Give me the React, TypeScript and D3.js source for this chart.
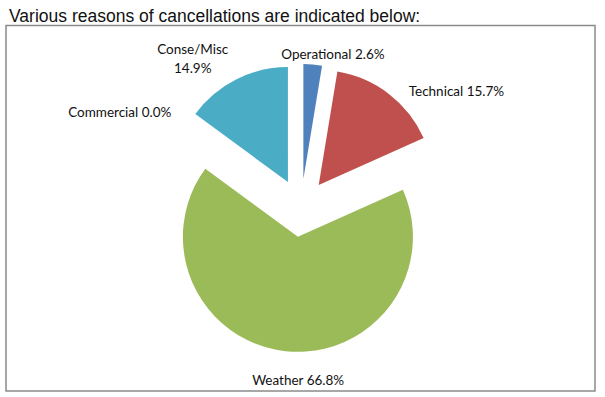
import * as d3 from 'd3';

// cancellation reasons, clockwise from 12 o'clock
const reasons = ['Operational', 'Technical', 'Weather', 'Commercial', 'Conse/Misc'];
const shares = [2.6, 15.7, 66.8, 0.0, 14.9];
const colors = ['#4F81BD', '#C0504D', '#9BBB59', '#8064A2', '#4BACC6'];

const title = 'Various reasons of cancellations are indicated below:';

const W = 605;
const H = 397;
const cx = 301;
const cy = 208;
const radius = 115;
const explode = 29;
const labelGap = 14;

// best-fit style label nudges (layout only)
const labelNudge: Record<string, [number, number]> = {
  Operational: [19, 4],
  Technical: [59, 8],
  Weather: [14, 15],
  Commercial: [-54, -2],
  'Conse/Misc': [-37, -10],
};

const labelFont = 'Lato, "Open Sans", sans-serif';

export default function App() {
  const rows = reasons.map((name, i) => ({ name, value: shares[i], color: colors[i] }));

  const pie = d3.pie<typeof rows[0]>().sort(null).value(d => d.value);
  const arcs = pie(rows);
  const arc = d3.arc<d3.PieArcDatum<typeof rows[0]>>().innerRadius(0).outerRadius(radius);

  return (
    <svg width={W} height={H} style={{ position: 'absolute', left: 0, top: 0, background: '#fff' }}>
      <text x={9} y={22} fontFamily='"Liberation Sans", Arial, sans-serif' fontSize={17.5} fill="#111">
        {title}
      </text>
      <rect x={6} y={25.5} width={589} height={365.5} fill="#fff" stroke="#8a8a8a" strokeWidth={1.5} />
      <g transform={`translate(${cx},${cy})`}>
        {arcs.map(a => {
          const mid = (a.startAngle + a.endAngle) / 2;
          const dx = Math.sin(mid) * explode;
          const dy = -Math.cos(mid) * explode;
          return (
            <path key={a.data.name} d={arc(a) || ''} fill={a.data.color} transform={`translate(${dx},${dy})`} />
          );
        })}
        {arcs.map(a => {
          const mid = (a.startAngle + a.endAngle) / 2;
          const dist = explode + radius + labelGap;
          const nudge = labelNudge[a.data.name] || [0, 0];
          const x = Math.sin(mid) * dist + nudge[0];
          const y = -Math.cos(mid) * dist + nudge[1];
          const pct = `${a.data.value.toFixed(1)}%`;
          const twoLine = a.data.name.includes('/');
          return (
            <text key={a.data.name} x={x} y={y} textAnchor="middle" fontFamily={labelFont} fontSize={13.5} fill="#111">
              {twoLine ? (
                <>
                  <tspan x={x} dy="-0.25em">{a.data.name}</tspan>
                  <tspan x={x} dy="1.45em">{pct}</tspan>
                </>
              ) : (
                <tspan dy="0.35em">{`${a.data.name} ${pct}`}</tspan>
              )}
            </text>
          );
        })}
      </g>
    </svg>
  );
}
